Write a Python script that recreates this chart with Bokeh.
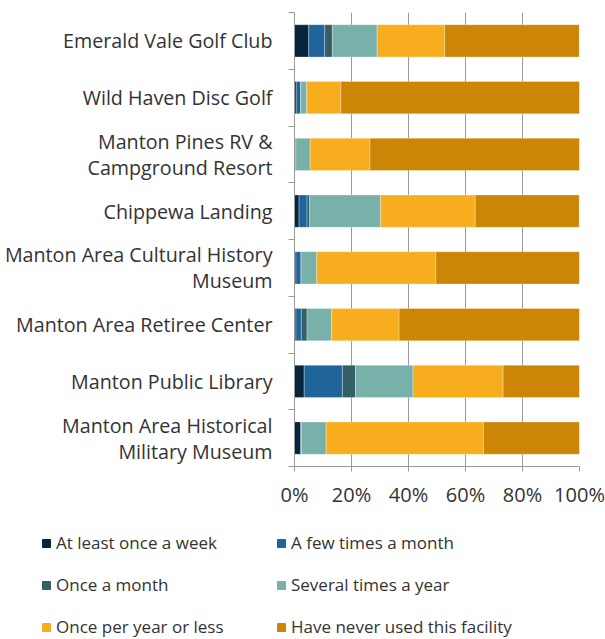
from bokeh.plotting import figure
from bokeh.layouts import column
from bokeh.models import Range1d, FixedTicker, Legend, LegendItem, ColumnDataSource
from bokeh.embed import file_html
from bokeh.resources import INLINE

facilities = [
    "Emerald Vale Golf Club",
    "Wild Haven Disc Golf",
    "Manton Pines RV &\nCampground Resort",
    "Chippewa Landing",
    "Manton Area Cultural History\nMuseum",
    "Manton Area Retiree Center",
    "Manton Public Library",
    "Manton Area Historical\nMilitary Museum",
]
series_names = [
    "At least once a week",
    "A few times a month",
    "Once a month",
    "Several times a year",
    "Once per year or less",
    "Have never used this facility",
]
weekly = [5.0, 0.6, 0.5, 1.6, 0.5, 0.5, 3.4, 2.2]
few_month = [5.6, 1.6, 0.0, 2.8, 1.8, 1.9, 13.4, 0.2]
monthly = [2.7, 0.0, 0.0, 0.9, 0.0, 2.0, 4.6, 0.0]
several_year = [15.7, 2.1, 5.0, 24.9, 5.5, 8.6, 20.2, 8.7]
yearly_less = [23.7, 12.0, 21.0, 33.2, 41.8, 23.7, 31.6, 55.2]
never = [47.2, 83.7, 73.5, 36.5, 50.5, 63.4, 26.9, 33.7]
colors = ["#06263e", "#1f659b", "#355f68", "#78b1a9", "#f8ad1f", "#cd8505"]
x_ticks = [0, 20, 40, 60, 80, 100]
x_tick_labels = ["0%", "20%", "40%", "60%", "80%", "100%"]

n = len(facilities)
ypos = [n - i - 0.5 for i in range(n)]
keys = ["w", "f", "m", "s", "yl", "nv"]
source = ColumnDataSource(dict(y=ypos, w=weekly, f=few_month, m=monthly,
                               s=several_year, yl=yearly_less, nv=never))

FONT = "Open Sans"
TXT = "#333333"
GRAY = "#9a9a9a"

p = figure(width=605, height=510, output_backend="svg", toolbar_location=None,
           x_range=Range1d(0, 100), y_range=Range1d(0, n),
           min_border_left=294, min_border_right=26, min_border_top=12,
           min_border_bottom=43)
p.outline_line_color = None

renderers = p.hbar_stack(keys, y="y", height=0.57, color=colors, source=source,
                         line_color="white", line_width=0.5, line_alpha=0.6)

# x axis
p.xaxis.ticker = FixedTicker(ticks=x_ticks, minor_ticks=[])
p.xaxis.major_label_overrides = {t: l for t, l in zip(x_ticks, x_tick_labels)}
p.xaxis.major_label_text_font = FONT
p.xaxis.major_label_text_font_size = "20px"
p.xaxis.major_label_text_color = TXT
p.xaxis.axis_line_color = GRAY
p.xaxis.major_tick_line_color = GRAY
p.xaxis.major_tick_out = 5
p.xaxis.major_tick_in = 0
p.xaxis.major_label_standoff = 9

# y axis: ticks at category boundaries (minor), labels at centres
p.yaxis.ticker = FixedTicker(ticks=ypos, minor_ticks=list(range(n + 1)))
p.yaxis.major_label_overrides = {y: f for y, f in zip(ypos, facilities)}
p.yaxis.major_label_text_font = FONT
p.yaxis.major_label_text_font_size = "19.7px"
p.yaxis.major_label_text_color = TXT
p.yaxis.major_label_text_line_height = 0.97
p.yaxis.major_label_text_align = "center"
p.yaxis.axis_line_color = GRAY
p.yaxis.major_tick_out = 0
p.yaxis.major_tick_in = 0
p.yaxis.minor_tick_out = 6
p.yaxis.minor_tick_in = 0
p.yaxis.minor_tick_line_color = GRAY
p.yaxis.major_label_standoff = 16

p.xgrid.grid_line_color = GRAY
p.xgrid.grid_line_width = 1
p.ygrid.grid_line_color = None

# legend panel (separate figure below the chart)
q = figure(width=605, height=129, output_backend="svg", toolbar_location=None,
           x_range=Range1d(0, 100), y_range=Range1d(-100, -90),
           x_axis_location=None, y_axis_location=None,
           min_border_left=0, min_border_right=0, min_border_top=0,
           min_border_bottom=0)
q.outline_line_color = None
q.xgrid.grid_line_color = None
q.ygrid.grid_line_color = None
for fig in (p, q):
    try:
        fig.frame_align = False
    except Exception:
        pass
swatches = q.hbar_stack(keys, y="y", height=0.57, color=colors, source=source)
for r in swatches:
    r.visible = False

items = [LegendItem(label=nm, renderers=[r]) for nm, r in zip(series_names, swatches)]
legend = Legend(items=items, location=(41, 1), orientation="horizontal", ncols=2,
                glyph_width=10, glyph_height=10, label_standoff=5, label_width=201,
                label_height=20, spacing=19, padding=0, margin=0,
                border_line_color=None, background_fill_alpha=0,
                label_text_font=FONT, label_text_font_size="17px",
                label_text_color=TXT, click_policy="none")
q.add_layout(legend, "center")

layout = column(p, q, spacing=0)
open("out.html", "w").write(file_html(layout, INLINE))
